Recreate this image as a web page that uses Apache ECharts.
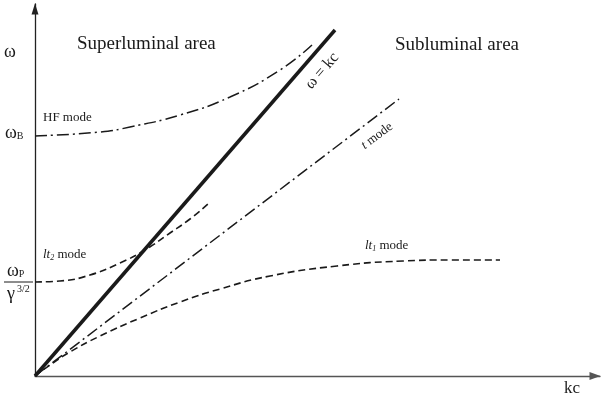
<!DOCTYPE html>
<html><head><meta charset="utf-8">
<script src="https://cdn.jsdelivr.net/npm/echarts@6/dist/echarts.min.js"></script>
<style>html,body{margin:0;padding:0;background:#fff}#c{width:603px;height:399px}</style>
</head><body><div id="c"></div>
<script>
// data in axis units (origin at lower-left corner of axes)
const lightLine = [[0,0],[300,346]];
const hfMode = [[0,240],[65,244],[95,249],[145,261],[195,279],[245,306],[277,331]];
const tMode = [[0,0],[364,277]];
const lt2Mode = [[0,94],[25,95],[55,101],[85,113],[110,126],[135,143],[155,157],[173,172]];
const lt1Mode = [[0,0],[15,11],[35,24],[65,40],[105,58],[145,74],[185,87],[235,100],[302,110],[368,115],[415,116],[465,116]];

const F = '"Liberation Serif","Times New Roman",serif';
const C = '#1a1a1a';
const chart = echarts.init(document.getElementById('c'));
const dash = [7,4];
const dashDot = [12,4,2,4];
chart.setOption({
  animation:false,
  grid:{left:35,right:3,top:4,bottom:23},
  xAxis:{type:'value',min:0,max:565,axisLabel:{show:false},axisTick:{show:false},splitLine:{show:false},
    axisLine:{lineStyle:{color:'#555',width:1.3},symbol:['none','triangle'],symbolSize:[8,11],symbolOffset:[0,-5]}},
  yAxis:{type:'value',min:0,max:372,axisLabel:{show:false},axisTick:{show:false},splitLine:{show:false},
    axisLine:{lineStyle:{color:'#222',width:1.3},symbol:['none','triangle'],symbolSize:[7,11],symbolOffset:[0,-5]}},
  series:[
    {type:'line',data:lightLine,showSymbol:false,lineStyle:{color:C,width:3.5}},
    {type:'line',data:hfMode,smooth:true,showSymbol:false,lineStyle:{color:C,width:1.5,type:dashDot}},
    {type:'line',data:tMode,showSymbol:false,lineStyle:{color:C,width:1.5,type:dashDot}},
    {type:'line',data:lt2Mode,smooth:true,showSymbol:false,lineStyle:{color:C,width:1.6,type:dash}},
    {type:'line',data:lt1Mode,smooth:true,showSymbol:false,lineStyle:{color:C,width:1.6,type:dash}}
  ],
  graphic:[
    {type:'text',left:4,top:43,style:{text:'ω',font:'18px '+F,fill:C}},
    {type:'text',left:77,top:35,style:{text:'Superluminal area',font:'19px '+F,fill:C}},
    {type:'text',left:395,top:36,style:{text:'Subluminal area',font:'19px '+F,fill:C}},
    {type:'text',left:43,top:111,style:{text:'HF mode',font:'13px '+F,fill:C}},
    {type:'text',left:5,top:124,style:{text:'ω{s|B}',font:'18px '+F,fill:C,rich:{s:{font:'10px '+F,padding:[7,0,0,0]}}}},
    {type:'text',left:43,top:248,style:{text:'{i|lt}{s|2} mode',font:'13px '+F,fill:C,rich:{i:{font:'italic 13px '+F},s:{font:'italic 8px '+F,padding:[6,0,0,0]}}}},
    {type:'text',left:365,top:239,style:{text:'{i|lt}{s|1} mode',font:'13px '+F,fill:C,rich:{i:{font:'italic 13px '+F},s:{font:'italic 8px '+F,padding:[6,0,0,0]}}}},
    {type:'text',left:7,top:262,style:{text:'ω{s|P}',font:'18px '+F,fill:C,rich:{s:{font:'10px '+F,padding:[7,0,0,0]}}}},
    {type:'line',shape:{x1:4,y1:282,x2:33,y2:282},style:{stroke:C,lineWidth:1}},
    {type:'text',left:7,top:285,style:{text:'γ',font:'18px '+F,fill:C}},
    {type:'text',left:17,top:284,style:{text:'3/2',font:'10px '+F,fill:C}},
    {type:'text',left:564,top:380,style:{text:'kc',font:'17px '+F,fill:C}},
    {type:'text',x:322,y:71,rotation:49*Math.PI/180,style:{text:'ω = kc',font:'16px '+F,fill:C,align:'center',verticalAlign:'middle'}},
    {type:'text',x:377,y:136,rotation:37*Math.PI/180,style:{text:'{i|t} mode',font:'13px '+F,fill:C,align:'center',verticalAlign:'middle',rich:{i:{font:'italic 13px '+F}}}}
  ]
});
</script></body></html>
